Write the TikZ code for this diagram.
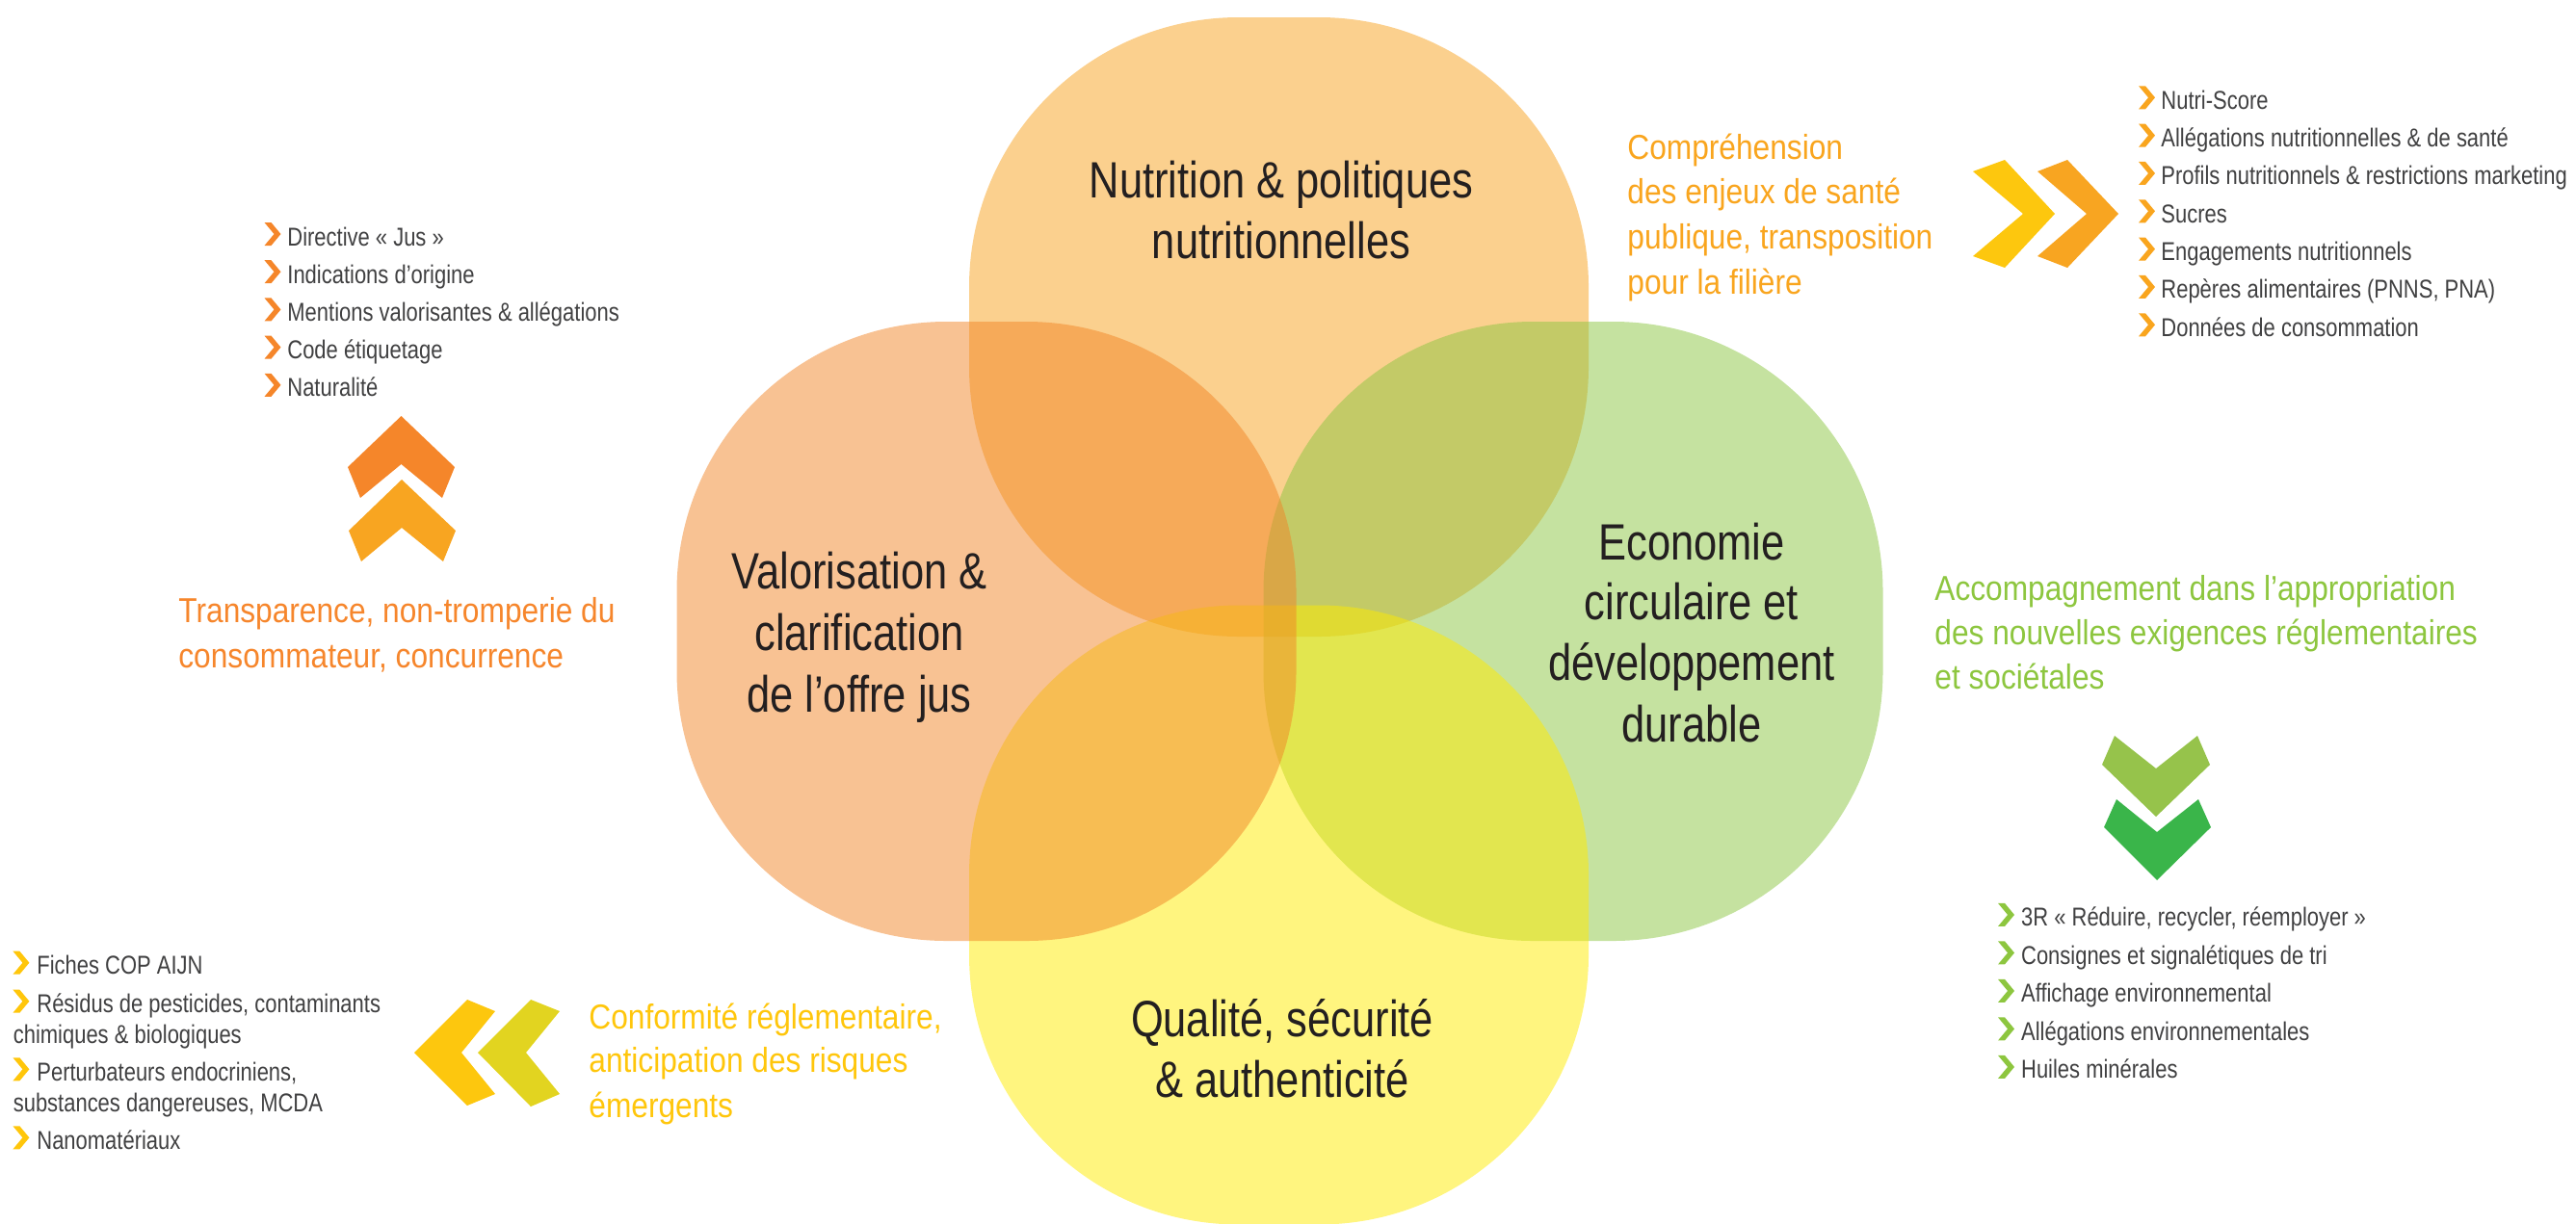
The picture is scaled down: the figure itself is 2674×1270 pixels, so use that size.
\documentclass[tikz,border=0pt]{standalone}
\usepackage{fontspec}
\setmainfont{Liberation Sans}[FakeStretch=0.82]
\newfontfamily\headfont{Liberation Sans}[FakeStretch=0.88]
\definecolor{cTop}{HTML}{F7A11D}
\definecolor{cLeft}{HTML}{F18527}
\definecolor{cGreen}{HTML}{8BC541}
\definecolor{cYellow}{HTML}{FFEB00}
\definecolor{txtdark}{HTML}{231F20}
\definecolor{txtgray}{HTML}{404041}
\definecolor{hOrange}{HTML}{F6862C}
\definecolor{hAmber}{HTML}{F9A51E}
\definecolor{hGreen}{HTML}{8DC63F}
\definecolor{hGold}{HTML}{FFC60B}
\definecolor{chOrange}{HTML}{F5862A}
\definecolor{chAmber}{HTML}{F8A521}
\definecolor{chYellow}{HTML}{FDC70E}
\definecolor{chOlive}{HTML}{E2D420}
\definecolor{chLightGreen}{HTML}{96C34B}
\definecolor{chDarkGreen}{HTML}{3AB54A}
\tikzset{
  bul/.pic={\fill[#1] (0,-12) -- (7,-12) -- (17,0) -- (7,12) -- (0,12) -- (10,0) -- cycle;},
  petal/.style={rectangle,rounded corners=140pt,minimum width=321.5pt,minimum height=321.5pt,inner sep=0pt,fill opacity=0.5},
  petaltext/.style={anchor=base,inner sep=0pt,text=txtdark,font=\fontsize{26.5pt}{31pt}\selectfont},
  listitem/.style={anchor=base west,inner sep=0pt,text=txtgray,font=\fontsize{13.4pt}{16pt}\selectfont},
  headline/.style={anchor=base west,inner sep=0pt,font=\headfont\fontsize{18pt}{22pt}\selectfont}
}
\begin{document}
\begin{tikzpicture}[x=0.5pt,y=-0.5pt]
\useasboundingbox (0,0) rectangle (2674,1270);
% petals
\node[petal,fill=cTop] (ptop) at (1327.5,339.5) {};
\node[petal,fill=cGreen] (pright) at (1633,655.5) {};
\node[petal,fill=cYellow] (pbottom) at (1327.5,950) {};
\node[petal,fill=cLeft] (pleft) at (1024,655.5) {};
% petal texts
\node[petaltext] (tt1) at (1330,205) {Nutrition \& politiques};
\node[petaltext] (tt2) at (1330,268) {nutritionnelles};
\node[petaltext] (tl1) at (892,611.7) {Valorisation \&};
\node[petaltext] (tl2) at (892,675.5) {clarification};
\node[petaltext] (tl3) at (892,739) {de l’offre jus};
\node[petaltext] (tr1) at (1756,581) {Economie};
\node[petaltext] (tr2) at (1756,643) {circulaire et};
\node[petaltext] (tr3) at (1756,706) {développement};
\node[petaltext] (tr4) at (1756,770) {durable};
\node[petaltext] (tb1) at (1331,1076) {Qualité, sécurité};
\node[petaltext] (tb2) at (1331,1139) {\& authenticité};
% upper-left block
\foreach \tt [count=\i] in {{Directive « Jus »},{Indications d’origine},{Mentions valorisantes \& allégations},{Code étiquetage},{Naturalité}}{
  \pgfmathsetmacro\yy{255+39.2*(\i-1)}
  \pic at (274.5,\yy-12) {bul=chOrange};
  \node[listitem] (ul\i) at (298,\yy) {\tt};
}
\fill[chOrange] (416.5,432) -- (472,485) -- (459,517) -- (416.5,482) -- (374,517) -- (361,485) -- cycle;
\fill[chAmber] (417,498) -- (473,551) -- (460,583) -- (417,548) -- (375,583) -- (362,551) -- cycle;
\node[headline,text=hOrange] (hl1) at (185,646.7) {Transparence, non-tromperie du};
\node[headline,text=hOrange] (hl2) at (185,693.3) {consommateur, concurrence};
% upper-right block
\node[headline,text=hAmber] (hr1) at (1689,165) {Compréhension};
\node[headline,text=hAmber] (hr2) at (1689,211.7) {des enjeux de santé};
\node[headline,text=hAmber] (hr3) at (1689,258.3) {publique, transposition};
\node[headline,text=hAmber] (hr4) at (1689,305) {pour la filière};
\fill[chYellow] (2048,178) -- (2081,166) -- (2133,222) -- (2081,278) -- (2048,266) -- (2100,222) -- cycle;
\fill[chAmber] (2115,178) -- (2146,166) -- (2199,222) -- (2146,278) -- (2115,266) -- (2166,222) -- cycle;
\foreach \tt [count=\i] in {{Nutri-Score},{Allégations nutritionnelles \& de santé},{Profils nutritionnels \& restrictions marketing},{Sucres},{Engagements nutritionnels},{Repères alimentaires (PNNS, PNA)},{Données de consommation}}{
  \pgfmathsetmacro\yy{113.3+39.33*(\i-1)}
  \pic at (2220,\yy-12) {bul=hAmber};
  \node[listitem] (ur\i) at (2243,\yy) {\tt};
}
% right block
\node[headline,text=hGreen] (hg1) at (2008,623) {Accompagnement dans l’appropriation};
\node[headline,text=hGreen] (hg2) at (2008,669.3) {des nouvelles exigences réglementaires};
\node[headline,text=hGreen] (hg3) at (2008,715.6) {et sociétales};
\fill[chLightGreen] (2182,794) -- (2195,764) -- (2238,798) -- (2281,764) -- (2294,794) -- (2238,848) -- cycle;
\fill[chDarkGreen] (2184,859) -- (2197,830) -- (2239,864) -- (2282,830) -- (2295,859) -- (2239,914) -- cycle;
\foreach \tt [count=\i] in {{3R « Réduire, recycler, réemployer »},{Consignes et signalétiques de tri},{Affichage environnemental},{Allégations environnementales},{Huiles minérales}}{
  \pgfmathsetmacro\yy{961.9+39.5*(\i-1)}
  \pic at (2074,\yy-12) {bul=hGreen};
  \node[listitem] (gr\i) at (2097.7,\yy) {\tt};
}
% bottom-left block
\fill[chYellow] (430,1093) -- (485,1038) -- (514,1050) -- (479,1093) -- (514,1136) -- (485,1148) -- cycle;
\fill[chOlive] (496,1093) -- (551,1038) -- (581,1050) -- (546,1093) -- (581,1136) -- (551,1149) -- cycle;
\node[headline,text=hGold] (hy1) at (611,1068.3) {Conformité réglementaire,};
\node[headline,text=hGold] (hy2) at (611,1113.3) {anticipation des risques};
\node[headline,text=hGold] (hy3) at (611,1160) {émergents};
\pic at (13.4,999.7) {bul=hGold};
\node[listitem] (bl1) at (38,1011.7) {Fiches COP AIJN};
\pic at (13.4,1039.7) {bul=hGold};
\node[listitem] (bl2) at (38,1051.7) {Résidus de pesticides, contaminants};
\node[listitem] (bl2b) at (13.4,1083.3) {chimiques \& biologiques};
\pic at (13.4,1110.3) {bul=hGold};
\node[listitem] (bl3) at (38,1122.3) {Perturbateurs endocriniens,};
\node[listitem] (bl3b) at (13.4,1154) {substances dangereuses, MCDA};
\pic at (13.4,1181.3) {bul=hGold};
\node[listitem] (bl4) at (38,1193.3) {Nanomatériaux};
\end{tikzpicture}
\end{document}
